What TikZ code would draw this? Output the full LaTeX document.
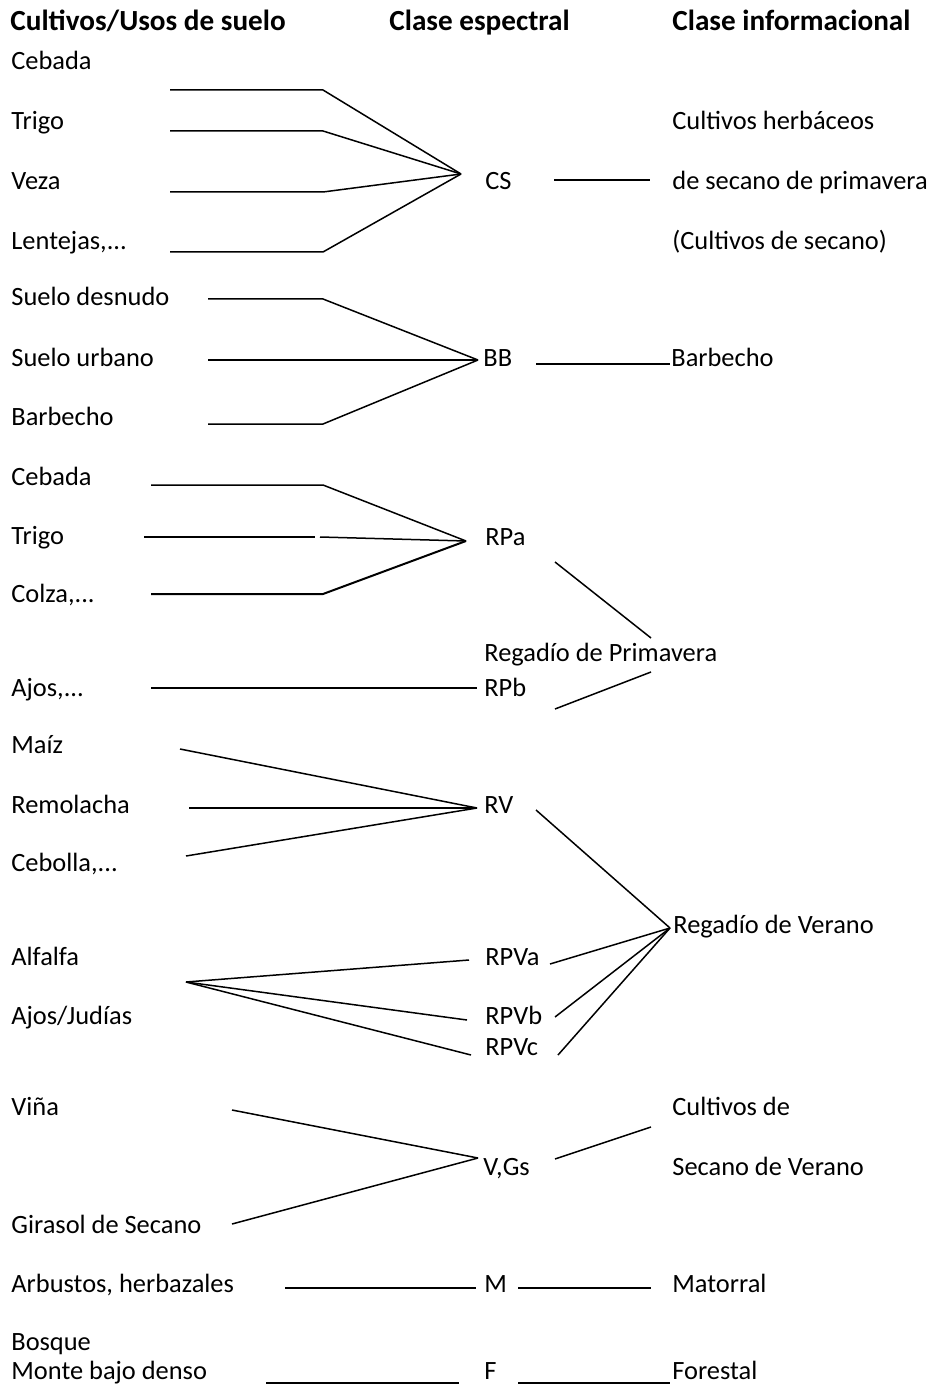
\documentclass[tikz,border=0pt]{standalone}
\usepackage{fontspec}
\setmainfont{Carlito}
\usetikzlibrary{positioning}
\tikzset{%
    crop/.style={
      anchor=base west,
      inner sep=0pt,
      font=\fontsize{13.2}{16}\selectfont
    },
    head/.style={
      crop,
      font=\fontsize{14.6}{17}\selectfont\bfseries
    },
    link/.style={
      line width=0.75pt
    }
  }
\begin{document}
\begin{tikzpicture}[x=0.5pt, y=-0.5pt]
      \useasboundingbox (0,0) rectangle (931,1390);

      \node [head] (hcrop) at (10,31) {Cultivos/Usos de suelo};
      \node [head] (hspec) at (389,31) {Clase espectral};
      \node [head] (hinfo) at (672,31) {Clase informacional};

      % usos de suelo
      \node [crop] (cebA) at (11,70) {Cebada};
      \node [crop] (trigoA) at (11,130) {Trigo};
      \node [crop] (veza) at (11,190) {Veza};
      \node [crop] (lentejas) at (11,250) {Lentejas,...};
      \node [crop] (desnudo) at (11,306) {Suelo desnudo};
      \node [crop] (urbano) at (11,366) {Suelo urbano};
      \node [crop] (barbA) at (11,425) {Barbecho};
      \node [crop] (cebB) at (11,485) {Cebada};
      \node [crop] (trigoB) at (11,544) {Trigo};
      \node [crop] (colza) at (11,602) {Colza,...};
      \node [crop] (ajos) at (11,696) {Ajos,...};
      \node [crop] (maiz) at (11,753) {Maíz};
      \node [crop] (remolacha) at (11,813) {Remolacha};
      \node [crop] (cebolla) at (11,871) {Cebolla,...};
      \node [crop] (alfalfa) at (11,965) {Alfalfa};
      \node [crop] (judias) at (11,1024) {Ajos/Judías};
      \node [crop] (vina) at (11,1115) {Viña};
      \node [crop] (girasol) at (11,1233) {Girasol de Secano};
      \node [crop] (arbustos) at (11,1292) {Arbustos, herbazales};
      \node [crop] (bosque) at (11,1350) {Bosque};
      \node [crop] (monte) at (11,1379) {Monte bajo denso};

      % clases espectrales
      \node [crop] (cs) at (485,190) {CS};
      \node [crop] (bb) at (483,366) {BB};
      \node [crop] (rpa) at (485,545) {RPa};
      \node [crop] (rprim) at (484,661) {Regadío de Primavera};
      \node [crop] (rpb) at (484,696) {RPb};
      \node [crop] (rv) at (484,813) {RV};
      \node [crop] (rpva) at (485,965) {RPVa};
      \node [crop] (rpvb) at (485,1024) {RPVb};
      \node [crop] (rpvc) at (485,1055) {RPVc};
      \node [crop] (vgs) at (483,1175) {V,Gs};
      \node [crop] (mat) at (484,1292) {M};
      \node [crop] (fo) at (484,1379) {F};

      % clases informacionales
      \node [crop] (herbA) at (672,130) {Cultivos herbáceos};
      \node [crop] (herbB) at (672,190) {de secano de primavera};
      \node [crop] (herbC) at (672,250) {(Cultivos de secano)};
      \node [crop] (barbI) at (671,366) {Barbecho};
      \node [crop] (verano) at (673,933) {Regadío de Verano};
      \node [crop] (cultA) at (672,1115) {Cultivos de};
      \node [crop] (cultB) at (672,1175) {Secano de Verano};
      \node [crop] (matorral) at (672,1292) {Matorral};
      \node [crop] (forestal) at (672,1379) {Forestal};

      % puntos de union
      \coordinate (csj) at (461,174);
      \coordinate (bbj) at (478,360);
      \coordinate (rpaj) at (466,541);
      \coordinate (rvj) at (477,808);
      \coordinate (verj) at (670,928);
      \coordinate (fan) at (186,982);
      \coordinate (vgj) at (478,1158);

      \coordinate (c1a) at (170,90);   \coordinate (c1b) at (323,90);
      \coordinate (c2a) at (170,131);  \coordinate (c2b) at (323,131);
      \coordinate (c3a) at (170,192);  \coordinate (c3b) at (323,192);
      \coordinate (c4a) at (170,252);  \coordinate (c4b) at (323,252);
      \coordinate (csr) at (554,180);  \coordinate (herbl) at (650,180);

      \coordinate (b1a) at (208,299);  \coordinate (b1b) at (323,299);
      \coordinate (b2a) at (208,360);
      \coordinate (b3a) at (208,424);  \coordinate (b3b) at (323,424);
      \coordinate (bbr) at (536,364);  \coordinate (barbl) at (670,364);

      \coordinate (r1a) at (151,485);  \coordinate (r1b) at (323,485);
      \coordinate (r2a) at (144,537);  \coordinate (r2b) at (315,537);
      \coordinate (r2c) at (320,537);
      \coordinate (r3a) at (151,594);  \coordinate (r3b) at (323,594);
      \coordinate (rpar) at (555,562); \coordinate (rprimt) at (651,638);
      \coordinate (ajl) at (151,688);  \coordinate (rpbl) at (477,688);
      \coordinate (rpbr) at (555,709); \coordinate (rprimb) at (651,672);

      \coordinate (v1a) at (180,749);
      \coordinate (v2a) at (189,808);
      \coordinate (v3a) at (186,856);
      \coordinate (rvr) at (536,810);

      \coordinate (pva) at (469,960);  \coordinate (pvar) at (550,964);
      \coordinate (pvb) at (467,1020); \coordinate (pvbr) at (555,1017);
      \coordinate (pvc) at (471,1055); \coordinate (pvcr) at (558,1055);

      \coordinate (g1a) at (232,1110);
      \coordinate (g2a) at (232,1224);
      \coordinate (vgr) at (555,1159); \coordinate (cultl) at (651,1127);

      \coordinate (m1a) at (285,1288); \coordinate (m1b) at (476,1288);
      \coordinate (m2a) at (518,1288); \coordinate (m2b) at (651,1288);
      \coordinate (f1a) at (266,1383); \coordinate (f1b) at (459,1383);
      \coordinate (f2a) at (518,1383); \coordinate (f2b) at (670,1383);

      \draw [link] (c1a) -- (c1b) -- (csj);
      \draw [link] (c2a) -- (c2b) -- (csj);
      \draw [link] (c3a) -- (c3b) -- (csj);
      \draw [link] (c4a) -- (c4b) -- (csj);
      \draw [link] (csr) -- (herbl);

      \draw [link] (b1a) -- (b1b) -- (bbj);
      \draw [link] (b2a) -- (bbj);
      \draw [link] (b3a) -- (b3b) -- (bbj);
      \draw [link] (bbr) -- (barbl);

      \draw [link] (r1a) -- (r1b) -- (rpaj);
      \draw [link] (r2a) -- (r2b);
      \draw [link] (r2c) -- (rpaj);
      \draw [link, line width=1pt] (r3a) -- (r3b) -- (rpaj);
      \draw [link] (rpar) -- (rprimt);
      \draw [link] (ajl) -- (rpbl);
      \draw [link] (rpbr) -- (rprimb);

      \draw [link] (v1a) -- (rvj);
      \draw [link] (v2a) -- (rvj);
      \draw [link] (v3a) -- (rvj);
      \draw [link] (rvr) -- (verj);

      \draw [link] (fan) -- (pva);
      \draw [link] (fan) -- (pvb);
      \draw [link] (fan) -- (pvc);
      \draw [link] (pvar) -- (verj);
      \draw [link] (pvbr) -- (verj);
      \draw [link] (pvcr) -- (verj);

      \draw [link] (g1a) -- (vgj);
      \draw [link] (g2a) -- (vgj);
      \draw [link] (vgr) -- (cultl);

      \draw [link] (m1a) -- (m1b);
      \draw [link] (m2a) -- (m2b);
      \draw [link] (f1a) -- (f1b);
      \draw [link] (f2a) -- (f2b);
\end{tikzpicture}
\end{document}
